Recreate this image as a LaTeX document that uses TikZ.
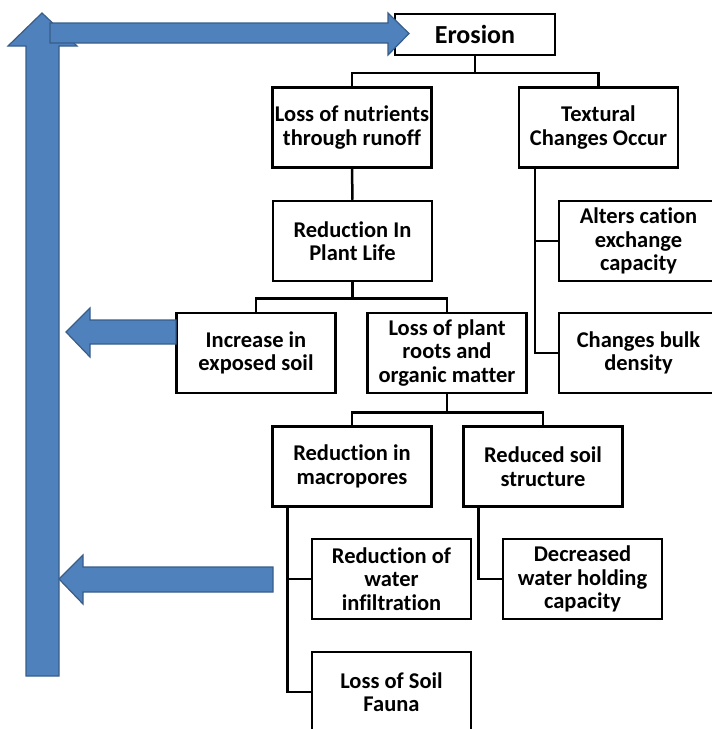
\documentclass[tikz,border=0pt]{standalone}
\usepackage{fontspec}
\setmainfont[Ligatures=NoCommon]{Carlito}
\usepackage{tikz}
\usetikzlibrary{positioning}
\definecolor{arrowblue}{RGB}{79,129,189}
\definecolor{arrowedge}{RGB}{56,93,138}

\begin{document}
\begin{tikzpicture}[
    x=1pt, y=-1pt,
    box/.style={draw, fill=white, line width=2.5pt, minimum width=159pt, minimum height=80pt, align=center, inner sep=1pt, font=\fontsize{22.5}{23.5}\selectfont\bfseries},
    link/.style={draw, line width=2.5pt, line join=miter},
    fatarrow/.style={fill=arrowblue, draw=arrowedge, line width=1.2pt, line join=miter},
]
    \useasboundingbox (0,0) rectangle (712,729);
    \clip (0,0) rectangle (712,729);

    % Top of the tree
    \node[box, minimum width=160pt, minimum height=41pt, font=\fontsize{26}{28}\selectfont\bfseries] (erosion) at (475,34.5) {Erosion};
    \node[box] (nutrients) at (352,127.5) {Loss of nutrients\\through runoff};
    \node[box] (textural) at (598.5,127.5) {Textural\\Changes Occur};

    % Textural branch
    \node[box] (cation) at (638.5,241) {Alters cation\\exchange\\capacity};
    \node[box] (bulk) at (638.5,353) {Changes bulk\\density};

    % Nutrient branch
    \node[box] (plantlife) at (352.5,241) {Reduction In\\Plant Life};
    \node[box] (exposed) at (256,353) {Increase in\\exposed soil};
    \node[box] (roots) at (447,353) {Loss of plant\\roots and\\organic matter};
    \node[box] (macro) at (352,466.5) {Reduction in\\macropores};
    \node[box] (structure) at (543,466.5) {Reduced soil\\structure};
    \node[box] (infiltr) at (391.5,579) {Reduction of\\water\\infiltration};
    \node[box] (holding) at (582.5,579) {Decreased\\water holding\\capacity};
    \node[box] (fauna) at (391.5,692) {Loss of Soil\\Fauna};

    \draw[link] (erosion.south) -- ++(0,16.5) -| (nutrients.north);
    \draw[link] (erosion.south) -- ++(0,16.5) -| (textural.north);
    \draw[link] ([xshift=17pt]textural.south west) |- (cation.west);
    \draw[link] ([xshift=17pt]textural.south west) |- (bulk.west);
    \draw[link] (nutrients.south) -- (plantlife.north);
    \draw[link] (plantlife.south) -- ++(0,16) -| (exposed.north);
    \draw[link] (plantlife.south) -- ++(0,16) -| (roots.north);
    \draw[link] (roots.south) -- ++(0,18) -| (macro.north);
    \draw[link] (roots.south) -- ++(0,18) -| (structure.north);
    \draw[link] ([xshift=16pt]macro.south west) |- (infiltr.west);
    \draw[link] ([xshift=16pt]macro.south west) |- (fauna.west);
    \draw[link] ([xshift=16pt]structure.south west) |- (holding.west);

    % Feedback arrows
    \draw[fatarrow] (176,320) -- (90,320) -- (90,308) -- (66,332) -- (90,357) -- (90,344) -- (176,344) -- cycle;
    \draw[fatarrow] (273,567) -- (83,567) -- (83,555) -- (59,579) -- (83,604) -- (83,592) -- (273,592) -- cycle;
    \draw[fatarrow] (26,676) -- (26,46) -- (8,46) -- (42,13) -- (77,46) -- (59,46) -- (59,676) -- cycle;
    \draw[fatarrow] (50,23) -- (388,23) -- (388,13) -- (409,33.5) -- (388,55) -- (388,43) -- (50,43) -- cycle;
\end{tikzpicture}
\end{document}
